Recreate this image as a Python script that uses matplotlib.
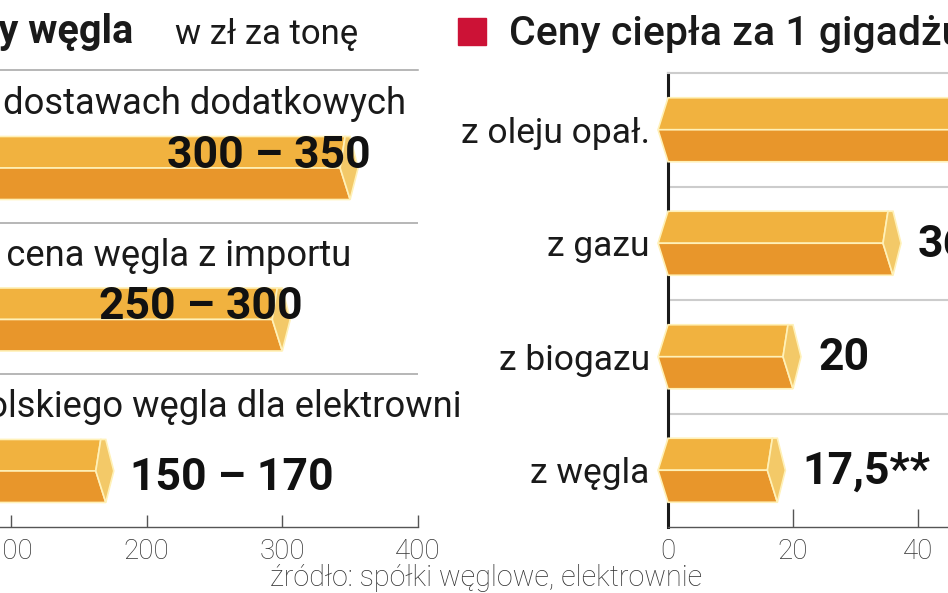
import matplotlib
matplotlib.use('Agg')
import matplotlib.pyplot as plt
from matplotlib.patches import Polygon, Rectangle

plt.rcParams['font.family'] = ['Roboto', 'DejaVu Sans']

# ceny węgla, zł za tonę (od góry)
coal_cats = ['Cena w dostawach dodatkowych', 'Średnia cena węgla z importu',
             'Cena polskiego węgla dla elektrowni']
coal_low = [300, 250, 150]
coal_high = [350, 300, 170]
coal_ticks = [100, 200, 300, 400]

# ceny ciepła za 1 GJ (od góry)
heat_cats = ['z oleju opał.', 'z gazu', 'z biogazu', 'z węgla']
heat_vals = [55, 36, 20, 17.5]
heat_text = ['55', '36', '20', '17,5**']
heat_ticks = [0, 20, 40]

TOP = '#f1b23f'
BOT = '#e8962b'
CAP = '#f3c968'
SEAM = '#fff1b8'

W, H = 948, 593
fig = plt.figure(figsize=(W / 100, H / 100), dpi=100)


def bar3d(ax, y, val, half, tip):
    pos = ax.get_position()
    x0, x1 = ax.get_xlim()
    u = (x1 - x0) / (pos.width * W)  # data units per pixel
    t, b = y + half, y - half
    top = [(0, t), (val - 5 * u, t), (val - 10 * u, y), (-tip * u, y)]
    bot = [(-tip * u, y), (val - 10 * u, y), (val, b), (0, b)]
    cap = [(val - 5 * u, t), (val, t), (val + 8 * u, y), (val, b), (val - 10 * u, y)]
    for verts, c in [(top, TOP), (bot, BOT), (cap, CAP)]:
        ax.add_patch(Polygon(verts, closed=True, fc=c, ec=SEAM, lw=1.2,
                             zorder=3, clip_on=False))


# --- lewy panel: ceny węgla ---
axL = fig.add_axes([-125 / W, 66 / H, 543 / W, 457 / H])
axL.set_facecolor('none')
axL.set_xlim(0, 400)
axL.set_ylim(-0.37, 2.647)
for s in ['left', 'right']:
    axL.spines[s].set_visible(False)
axL.spines['top'].set_color('#a3a3a3')
axL.spines['top'].set_linewidth(1.1)
axL.spines['bottom'].set_color('#555555')
axL.spines['bottom'].set_linewidth(1.0)
for k in [0.64, 1.64]:
    axL.axhline(k, color='#a3a3a3', lw=1.1, zorder=1)
axL.set_yticks([])
axL.set_xticks(coal_ticks)
axL.tick_params(axis='x', direction='in', length=9, width=1, color='#555555',
                pad=8, labelsize=20, labelcolor='#333333')

n = len(coal_cats)
for i, (cat, lo, hi) in enumerate(zip(coal_cats, coal_low, coal_high)):
    y = n - 1 - i
    bar3d(axL, y, hi, 0.208, 0)
    axL.text(0, y + 0.355, cat, ha='left', va='baseline', fontsize=26.2,
             color='#1a1a1a')
    lab = f'{lo} – {hi}'
    if hi > 250:
        axL.text(hi + 15, y, lab, ha='right', va='baseline', fontsize=32,
                 fontweight='bold', color='#111111', zorder=4)
    else:
        axL.text(hi + 18, y - 0.125, lab, ha='left', va='baseline', fontsize=32,
                 fontweight='bold', color='#111111', zorder=4)

# --- prawy panel: ceny ciepła ---
axR = fig.add_axes([668 / W, 66 / H, 280 / W, 454 / H])
axR.set_facecolor('none')
axR.set_xlim(0, 44.8)
axR.set_ylim(-0.5, 3.5)
axR.spines['right'].set_visible(False)
axR.spines['top'].set_color('#cccccc')
axR.spines['top'].set_linewidth(1.5)
axR.spines['left'].set_color('#1a1a1a')
axR.spines['left'].set_linewidth(2.2)
axR.spines['bottom'].set_color('#555555')
axR.spines['bottom'].set_linewidth(1.0)
for k in [0.5, 1.5, 2.5]:
    axR.axhline(k, color='#cccccc', lw=1.5, zorder=1)
axR.set_yticks([])
axR.set_xticks(heat_ticks)
axR.tick_params(axis='x', direction='in', length=13, width=1, color='#555555',
                pad=8, labelsize=20, labelcolor='#333333')

m = len(heat_cats)
for i, (cat, v, txt) in enumerate(zip(heat_cats, heat_vals, heat_text)):
    y = m - 1 - i
    bar3d(axR, y, v, 0.282, 10)
    axR.text(-2.9, y - 0.115, cat, ha='right', va='baseline', fontsize=25.5,
             color='#1a1a1a')
    axR.text(v + 4.0, y - 0.12, txt, ha='left', va='baseline', fontsize=32,
             fontweight='bold', color='#111111')

for ax in (axL, axR):
    for lbl in ax.get_xticklabels():
        lbl.set_fontweight('light')

# --- tytuły i źródło ---
fig.text(133 / W, 1 - 43 / H, 'Ceny węgla', ha='right', va='baseline',
         fontsize=28.5, fontweight='bold', color='#1a1a1a')
fig.text(175 / W, 1 - 44 / H, 'w zł za tonę', ha='left', va='baseline',
         fontsize=25, color='#1a1a1a')
fig.patches.append(Rectangle((458 / W, 1 - 45 / H), 28 / W, 27 / H,
                             transform=fig.transFigure, color='#cc1236'))
fig.text(509 / W, 1 - 45 / H, 'Ceny ciepła za 1 gigadżul*', ha='left',
         va='baseline', fontsize=29.5, fontweight='medium', color='#1a1a1a')
fig.text(270 / W, 1 - 586 / H, 'źródło: spółki węglowe, elektrownie',
         ha='left', va='baseline', fontsize=20.7, fontweight='light',
         color='#333333')

fig.savefig('out.png', dpi=100)
